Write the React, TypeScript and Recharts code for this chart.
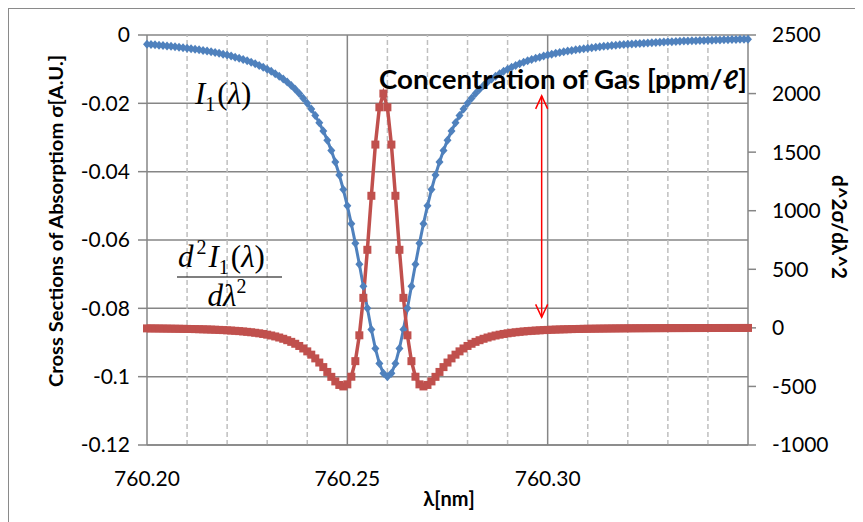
import React from "react";
import {
  ComposedChart,
  Line,
  XAxis,
  YAxis,
  CartesianGrid,
  ReferenceLine,
} from "recharts";

// wavelength samples [nm]
const wavelength = [
  760.2, 760.201, 760.202, 760.203, 760.204, 760.205, 760.206, 760.207, 760.208, 760.209,
  760.21, 760.211, 760.212, 760.213, 760.214, 760.215, 760.216, 760.217, 760.218, 760.219,
  760.22, 760.221, 760.222, 760.223, 760.224, 760.225, 760.226, 760.227, 760.228, 760.229,
  760.23, 760.231, 760.232, 760.233, 760.234, 760.235, 760.236, 760.237, 760.238, 760.239,
  760.24, 760.241, 760.242, 760.243, 760.244, 760.245, 760.246, 760.247, 760.248, 760.249,
  760.25, 760.251, 760.252, 760.253, 760.254, 760.255, 760.256, 760.257, 760.258, 760.259,
  760.26, 760.261, 760.262, 760.263, 760.264, 760.265, 760.266, 760.267, 760.268, 760.269,
  760.27, 760.271, 760.272, 760.273, 760.274, 760.275, 760.276, 760.277, 760.278, 760.279,
  760.28, 760.281, 760.282, 760.283, 760.284, 760.285, 760.286, 760.287, 760.288, 760.289,
  760.29, 760.291, 760.292, 760.293, 760.294, 760.295, 760.296, 760.297, 760.298, 760.299,
  760.3, 760.301, 760.302, 760.303, 760.304, 760.305, 760.306, 760.307, 760.308, 760.309,
  760.31, 760.311, 760.312, 760.313, 760.314, 760.315, 760.316, 760.317, 760.318, 760.319,
  760.32, 760.321, 760.322, 760.323, 760.324, 760.325, 760.326, 760.327, 760.328, 760.329,
  760.33, 760.331, 760.332, 760.333, 760.334, 760.335, 760.336, 760.337, 760.338, 760.339,
  760.34, 760.341, 760.342, 760.343, 760.344, 760.345, 760.346, 760.347, 760.348, 760.349,
  760.35,
];

// cross section I1(λ), left axis
const crossSection = [
  -0.0027, -0.00279, -0.00289, -0.00299, -0.00309, -0.0032, -0.00332, -0.00344, -0.00357, -0.0037,
  -0.00385, -0.004, -0.00416, -0.00433, -0.00451, -0.00471, -0.00491, -0.00513, -0.00536, -0.00561,
  -0.00588, -0.00617, -0.00648, -0.00681, -0.00716, -0.00755, -0.00796, -0.00841, -0.0089, -0.00943,
  -0.01, -0.01063, -0.01131, -0.01206, -0.01289, -0.01379, -0.01479, -0.0159, -0.01712, -0.01848,
  -0.02, -0.02169, -0.02358, -0.02571, -0.02809, -0.03077, -0.03378, -0.03717, -0.04098, -0.04525,
  -0.05, -0.05525, -0.06098, -0.06711, -0.07353, -0.08, -0.08621, -0.09174, -0.09615, -0.09901,
  -0.1,
  -0.09901, -0.09615, -0.09174, -0.08621, -0.08, -0.07353, -0.06711, -0.06098, -0.05525, -0.05,
  -0.04525, -0.04098, -0.03717, -0.03378, -0.03077, -0.02809, -0.02571, -0.02358, -0.02169, -0.02,
  -0.01848, -0.01712, -0.0159, -0.01479, -0.01379, -0.01289, -0.01206, -0.01131, -0.01063, -0.01,
  -0.00943, -0.0089, -0.00841, -0.00796, -0.00755, -0.00716, -0.00681, -0.00648, -0.00617, -0.00588,
  -0.00561, -0.00536, -0.00513, -0.00491, -0.00471, -0.00451, -0.00433, -0.00416, -0.004, -0.00385,
  -0.0037, -0.00357, -0.00344, -0.00332, -0.0032, -0.00309, -0.00299, -0.00289, -0.00279, -0.0027,
  -0.00262, -0.00254, -0.00246, -0.00238, -0.00231, -0.00224, -0.00218, -0.00212, -0.00206, -0.002,
  -0.00195, -0.00189, -0.00184, -0.00179, -0.00175, -0.0017, -0.00166, -0.00162, -0.00158, -0.00154,
  -0.0015, -0.00147, -0.00143, -0.0014, -0.00137, -0.00133, -0.0013, -0.00127, -0.00125, -0.00122,
];

// d^2σ/dλ^2, right axis
const secondDeriv = [
  -4.5, -4.8, -5.1, -5.5, -5.9, -6.3, -6.8, -7.3, -7.8,
  -8.4, -9.1, -9.8, -10.6, -11.5, -12.5, -13.5, -14.7, -16, -17.5,
  -19.1, -21, -23, -25.3, -27.8, -30.7, -34, -37.7, -41.9, -46.6,
  -52, -58.2, -65.2, -73.3, -82.5, -93.2, -105.4, -119.5, -135.8, -154.5,
  -176, -200.7, -228.8, -260.6, -296.1, -335, -376.3, -418.2, -457.1, -487.3,
  -500, -482.3, -417.1, -284.2, -63.6, 256, 666.3, 1127.4, 1564.6, 1882.9,
  2000,
  1882.9, 1564.6, 1127.4, 666.3, 256, -63.6, -284.2, -417.1, -482.3, -500,
  -487.3, -457.1, -418.2, -376.3, -335, -296.1, -260.6, -228.8, -200.7, -176,
  -154.5, -135.8, -119.5, -105.4, -93.2, -82.5, -73.3, -65.2, -58.2, -52,
  -46.6, -41.9, -37.7, -34, -30.7, -27.8, -25.3, -23, -21, -19.1,
  -17.5, -16, -14.7, -13.5, -12.5, -11.5, -10.6, -9.8, -9.1, -8.4,
  -7.8, -7.3, -6.8, -6.3, -5.9, -5.5, -5.1, -4.8, -4.5, -4.2,
  -4, -3.7, -3.5, -3.3, -3.1, -2.9, -2.8, -2.6, -2.5, -2.3,
  -2.2, -2.1, -2, -1.9, -1.8, -1.7, -1.6, -1.5, -1.5, -1.4,
  -1.3, -1.3, -1.2, -1.1, -1.1, -1, -1, -1, -0.9, -0.9, -0.8,
];

const leftTicks = [0, -0.02, -0.04, -0.06, -0.08, -0.1, -0.12];
const rightTicks = [-1000, -500, 0, 500, 1000, 1500, 2000, 2500];
const xTicks = [760.2, 760.25, 760.3];
const majorX = [760.25, 760.3];
const minorX = [
  760.21, 760.22, 760.23, 760.24, 760.26, 760.27, 760.28, 760.29,
  760.31, 760.32, 760.33, 760.34,
];

const data = wavelength.map((w, i) => ({
  w,
  sigma: crossSection[i],
  d2: secondDeriv[i],
}));

const BLUE = "#4F81BD";
const RED = "#C0504D";
const AXIS = "#868686";

const Diamond = (p: any) => {
  const { cx, cy, index } = p;
  if (cx == null || cy == null) return <g key={index} />;
  return (
    <path
      key={index}
      d={`M${cx},${cy - 4.5}L${cx + 4},${cy}L${cx},${cy + 4.5}L${cx - 4},${cy}Z`}
      fill={BLUE}
    />
  );
};

const Square = (p: any) => {
  const { cx, cy, index } = p;
  if (cx == null || cy == null) return <g key={index} />;
  return <rect key={index} x={cx - 4} y={cy - 4} width={8} height={8} fill={RED} />;
};

// double headed red arrow
const Arrow = (p: any) => {
  const { x1, y1, x2, y2 } = p;
  const top = Math.min(y1, y2);
  const bot = Math.max(y1, y2);
  return (
    <g stroke="#FF0000" strokeWidth={1.5} fill="none">
      <line x1={x1} y1={top} x2={x2} y2={bot} />
      <polyline points={`${x1 - 6},${top + 13} ${x1},${top} ${x1 + 6},${top + 13}`} />
      <polyline points={`${x1 - 6},${bot - 13} ${x1},${bot} ${x1 + 6},${bot - 13}`} />
    </g>
  );
};

const tickStyle = { fill: "#000", fontSize: 21, fontFamily: "Lato" };

export default function App() {
  return (
    <div style={{ position: "relative", width: 855, height: 514, fontFamily: "Lato" }}>
      <div
        style={{
          position: "absolute",
          left: 0,
          top: 0,
          width: 855,
          height: 514,
          borderTop: "1px solid #8a8a8a",
          borderLeft: "1px solid #8a8a8a",
          boxSizing: "border-box",
        }}
      />
      <ComposedChart
        width={855}
        height={514}
        data={data}
        margin={{ top: 27, right: 35, bottom: 37, left: 59 }}
      >
        <CartesianGrid
          yAxisId="left"
          vertical={false}
          stroke={AXIS}
          strokeWidth={1.5}
        />
        <XAxis
          dataKey="w"
          type="number"
          domain={[760.2, 760.35]}
          ticks={xTicks}
          tickFormatter={(v: number) => v.toFixed(2)}
          height={40}
          tickLine={false}
          tickSize={0}
          tickMargin={26}
          tick={tickStyle}
          stroke={AXIS}
          strokeWidth={1.5}
        />
        <YAxis
          yAxisId="left"
          orientation="left"
          domain={[-0.12, 0]}
          ticks={leftTicks}
          width={80}
          tickSize={9}
          tickMargin={8}
          tick={tickStyle}
          stroke={AXIS}
          strokeWidth={1.5}
        />
        <YAxis
          yAxisId="right"
          orientation="right"
          domain={[-1000, 2500]}
          ticks={rightTicks}
          width={80}
          tickSize={8}
          tickMargin={16}
          tick={tickStyle}
          stroke={AXIS}
          strokeWidth={1.5}
        />
        {minorX.map((x) => (
          <ReferenceLine
            key={`m${x}`}
            x={x}
            yAxisId="left"
            stroke="#BFBFBF"
            strokeWidth={1.5}
            strokeDasharray="5 3"
          />
        ))}
        {majorX.map((x) => (
          <ReferenceLine
            key={`M${x}`}
            x={x}
            yAxisId="left"
            stroke={AXIS}
            strokeWidth={1.5}
          />
        ))}
        <Line
          yAxisId="left"
          dataKey="sigma"
          type="linear"
          stroke={BLUE}
          strokeWidth={3}
          dot={Diamond}
          activeDot={false}
          isAnimationActive={false}
        />
        <Line
          yAxisId="right"
          dataKey="d2"
          type="linear"
          stroke={RED}
          strokeWidth={3.5}
          dot={Square}
          activeDot={false}
          isAnimationActive={false}
        />
        <ReferenceLine
          yAxisId="right"
          segment={[
            { x: 760.2985, y: 1980 },
            { x: 760.2985, y: 90 },
          ]}
          shape={Arrow}
        />
      </ComposedChart>
      <svg
        width={855}
        height={514}
        style={{ position: "absolute", left: 0, top: 0, pointerEvents: "none" }}
      >
        <text
          x={47}
          y={213}
          textAnchor="middle"
          dominantBaseline="central"
          transform="rotate(-90 47 213)"
          fontFamily="Lato"
          fontWeight="bold"
          fontSize={19}
          textLength={332}
          lengthAdjust="spacingAndGlyphs"
        >
          Cross Sections of Absorptiom σ[A.U.]
        </text>
        <text
          x={832}
          y={219}
          textAnchor="middle"
          dominantBaseline="central"
          transform="rotate(90 832 219)"
          fontFamily="Lato"
          fontWeight="bold"
          fontSize={20}
          textLength={104}
          lengthAdjust="spacingAndGlyphs"
        >
          d^2σ/dλ^2
        </text>
        <text
          x={441}
          y={490}
          textAnchor="middle"
          dominantBaseline="central"
          fontFamily="Lato"
          fontWeight="bold"
          fontSize={20}
        >
          λ[nm]
        </text>
        <text
          x={371}
          y={81}
          fontFamily="Lato"
          fontWeight="bold"
          fontSize={26}
          textLength={368}
          lengthAdjust="spacingAndGlyphs"
        >
          Concentration of Gas [ppm/ℓ]
        </text>
        <text x={187} y={96} fontFamily="Liberation Serif" fontSize={31}>
          <tspan fontStyle="italic">I</tspan>
          <tspan dy={7} fontSize={20}>1</tspan>
          <tspan dy={-7} dx={2}>(</tspan>
          <tspan fontStyle="italic">λ</tspan>
          <tspan>)</tspan>
        </text>
        <text x={170} y={259} fontFamily="Liberation Serif" fontSize={31}>
          <tspan fontStyle="italic">d</tspan>
          <tspan dy={-13} dx={3} fontSize={20}>2</tspan>
          <tspan dy={13} dx={2} fontStyle="italic">I</tspan>
          <tspan dy={7} fontSize={20}>1</tspan>
          <tspan dy={-7} dx={2}>(</tspan>
          <tspan fontStyle="italic">λ</tspan>
          <tspan>)</tspan>
        </text>
        <line x1={169} y1={269} x2={274} y2={269} stroke="#000" strokeWidth={1.2} />
        <text x={219} y={298} textAnchor="middle" fontFamily="Liberation Serif" fontSize={31}>
          <tspan fontStyle="italic">dλ</tspan>
          <tspan dy={-13} fontSize={20}>2</tspan>
        </text>
      </svg>
    </div>
  );
}
